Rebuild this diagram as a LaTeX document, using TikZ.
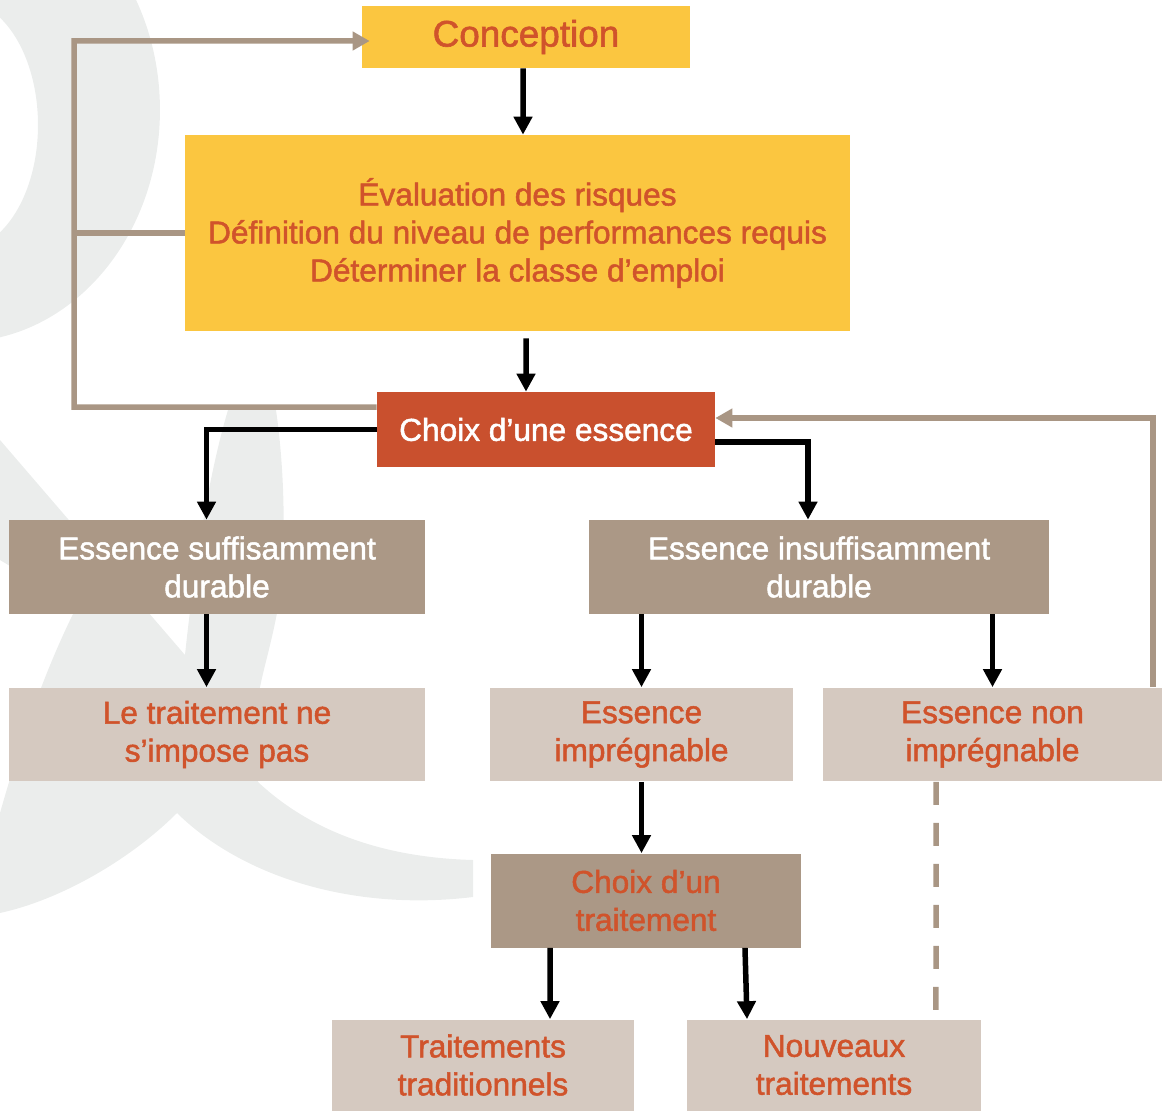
\documentclass[tikz,border=0pt]{standalone}
\usepackage{fontspec}
\setmainfont{Liberation Sans}
\newfontfamily\heavy[FakeBold=1.6]{Liberation Sans}
\usetikzlibrary{arrows.meta}
\definecolor{yel}{HTML}{FBC640}
\definecolor{org}{HTML}{D0532B}
\definecolor{redbox}{HTML}{C9502E}
\definecolor{tanbox}{HTML}{AB9886}
\definecolor{lightbox}{HTML}{D5C9C0}
\definecolor{tanline}{HTML}{A99684}
\definecolor{bgc}{HTML}{EBEDEC}
\begin{document}
\begin{tikzpicture}[x=0.02cm,y=-0.02cm,
  box/.style={inner sep=0pt, align=center, font=\heavy\fontsize{18}{21.6}\selectfont},
  wide/.style={minimum height=1.88cm},
  blk/.style={draw=black, line width=0.11cm, -{Triangle[width=0.36cm,length=0.36cm]}},
  tanarrow/.style={draw=tanline, line width=0.11cm, -{Triangle[width=0.36cm,length=0.34cm]}},
  tanplain/.style={draw=tanline, line width=0.11cm},
  tandash/.style={draw=tanline, line width=0.11cm, dash pattern=on 0.46cm off 0.36cm}]
\useasboundingbox (0,0) rectangle (1162,1111);
% background ampersand
\begin{scope}
\clip (0,0) rectangle (1162,1111);
\fill[bgc, even odd rule] (-40,110) ellipse [x radius=4cm, y radius=4.64cm]
  (-40,125) ellipse [x radius=1.56cm, y radius=2.5cm];
\fill[bgc] (0,440) -- (185,655)
  .. controls (195,560) and (210,470) .. (228,410) -- (276,410)
  .. controls (286,480) and (286,560) .. (277,613)
  .. controls (270,650) and (260,680) .. (258,700) -- (258,782)
  .. controls (320,840) and (400,858) .. (473,860) -- (473,897)
  .. controls (350,912) and (240,875) .. (177,813)
  .. controls (130,860) and (60,900) .. (0,913) -- (0,813)
  .. controls (15,760) and (40,680) .. (75,610)
  .. controls (50,590) and (25,575) .. (0,560) -- cycle;
\end{scope}
% nodes
\node[box, fill=yel, text=org, minimum width=6.56cm, minimum height=1.24cm, font=\heavy\fontsize{21}{25}\selectfont] (conc) at (526,37) {\raisebox{-0.1cm}{Conception}};
\node[box, fill=yel, text=org, minimum width=13.3cm, minimum height=3.92cm] (eval) at (517.5,233) {Évaluation des risques\\Définition du niveau de performances requis\\Déterminer la classe d’emploi};
\node[box, fill=redbox, text=white, minimum width=6.76cm, minimum height=1.5cm] (choix) at (546,429.5) {\raisebox{-0.03cm}{Choix d’une essence}};
\node[box, wide, fill=tanbox, text=white, minimum width=8.32cm] (suff) at (217,567) {Essence suffisamment\\durable};
\node[box, wide, fill=tanbox, text=white, minimum width=9.2cm] (insuff) at (819,567) {Essence insuffisamment\\durable};
\node[box, wide, fill=lightbox, text=org, minimum width=8.32cm] (nepas) at (217,734.5) {Le traitement ne\\s’impose pas};
\node[box, wide, fill=lightbox, text=org, minimum width=6.06cm] (impr) at (641.5,734.5) {Essence\\imprégnable};
\node[box, wide, fill=lightbox, text=org, minimum width=6.78cm] (nonimpr) at (992.5,734.5) {Essence non\\imprégnable};
\node[box, wide, fill=tanbox, text=org, minimum width=6.2cm] (choixtr) at (646,900.5) {Choix d’un\\traitement};
\node[box, fill=lightbox, text=org, minimum width=6.04cm, minimum height=1.82cm] (trad) at (483,1065) {Traitements\\traditionnels};
\node[box, fill=lightbox, text=org, minimum width=5.88cm, minimum height=1.82cm] (nouv) at (834,1065) {Nouveaux\\traitements};
% feedback connectors
\coordinate (fb1) at (74,407);
\draw[tanarrow] ([yshift=0.45cm]choix.west) -- (fb1) |- ([xshift=0.16cm,yshift=-0.08cm]conc.west);
\draw[tanplain] (eval.west) -- (eval.west -| fb1);
\draw[tanarrow] ([xshift=3.21cm]nonimpr.north) |- ([yshift=0.23cm]choix.east);
\draw[tandash] ([xshift=-1.13cm]nonimpr.south) -- ([xshift=2.04cm]nouv.north);
% main connectors
\draw[blk] ([xshift=-0.06cm]conc.south) -- ([xshift=0.11cm]eval.north);
\draw[blk, shorten <=0.14cm] ([xshift=0.17cm]eval.south) -- ([xshift=-0.4cm]choix.north);
\draw[blk] (choix.west) -| ([xshift=-0.21cm]suff.north);
\draw[blk] ([yshift=-0.25cm]choix.east) -| ([xshift=-0.22cm]insuff.north);
\draw[blk] ([xshift=-0.21cm]suff.south) -- ([xshift=-0.21cm]nepas.north);
\draw[blk] (impr.north |- insuff.south) -- (impr.north);
\draw[blk] (nonimpr.north |- insuff.south) -- (nonimpr.north);
\draw[blk] (impr.south) -- (impr.south |- choixtr.north);
\draw[blk] ([xshift=-1.92cm]choixtr.south) -- ([xshift=1.34cm]trad.north);
\draw[blk] ([xshift=1.98cm]choixtr.south) -- ([xshift=-1.74cm]nouv.north);
\end{tikzpicture}
\end{document}
